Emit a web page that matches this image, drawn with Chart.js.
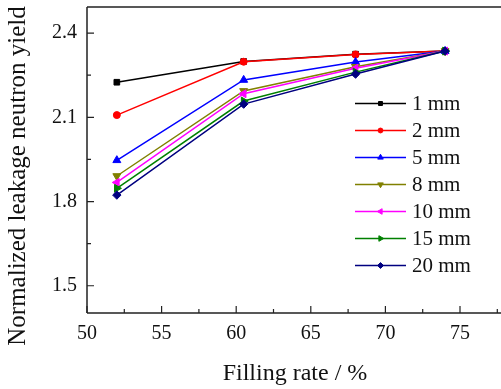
<!DOCTYPE html>
<html>
<head>
<meta charset="utf-8">
<script src="https://cdn.jsdelivr.net/npm/chart.js@4/dist/chart.umd.min.js"></script>
<style>
html,body{margin:0;padding:0;background:#fff;overflow:hidden;}
#wrap{width:560px;height:389px;}
</style>
</head>
<body>
<div id="wrap"><canvas id="c" width="560" height="389"></canvas></div>
<script>
// ---- data ----
const fillingRates = [52, 60.5, 68, 74];
const seriesNames = ['1 mm', '2 mm', '5 mm', '8 mm', '10 mm', '15 mm', '20 mm'];
const y1mm  = [2.225, 2.299, 2.325, 2.336];
const y2mm  = [2.108, 2.298, 2.324, 2.336];
const y5mm  = [1.947, 2.233, 2.297, 2.336];
const y8mm  = [1.891, 2.194, 2.280, 2.336];
const y10mm = [1.868, 2.184, 2.275, 2.336];
const y15mm = [1.847, 2.158, 2.261, 2.336];
const y20mm = [1.823, 2.147, 2.254, 2.336];
const xTicks = [50, 55, 60, 65, 70, 75, 80];
const xMinorTicks = [52.5, 57.5, 62.5, 67.5, 72.5, 77.5];
const yTicks = [1.5, 1.8, 2.1, 2.4];
const yMinorTicks = [1.65, 1.95, 2.25];

const allSeries = [y1mm, y2mm, y5mm, y8mm, y10mm, y15mm, y20mm];
const colors = ['#000000', '#ff0000', '#0000ff', '#808000', '#ff00ff', '#008000', '#000080'];
const styles = ['rect', 'circle', 'triangle', 'triangle', 'triangle', 'triangle', 'rectRot'];
const rotations = [0, 0, 0, 180, -90, 90, 0];
const radii = [4, 3.5, 4.6, 4.6, 4.6, 4.6, 4.2];

const FONT = "'Liberation Serif', 'Times New Roman', serif";

const datasets = allSeries.map((vals, i) => ({
  label: seriesNames[i],
  data: fillingRates.map((x, j) => ({x: x, y: vals[j]})),
  borderColor: colors[i],
  backgroundColor: colors[i],
  pointBackgroundColor: colors[i],
  pointBorderColor: colors[i],
  pointStyle: styles[i],
  pointRotation: rotations[i],
  pointRadius: radii[i],
  pointBorderWidth: 1,
  borderWidth: 1.5,
  order: allSeries.length - i,
  tension: 0
}));

function drawMarker(ctx, style, rot, r, x, y, color) {
  ctx.save();
  ctx.fillStyle = color; ctx.strokeStyle = color; ctx.lineWidth = 1;
  if (Chart.helpers && Chart.helpers.drawPoint) {
    Chart.helpers.drawPoint(ctx, {pointStyle: style, rotation: rot, radius: r, borderWidth: 1}, x, y);
  } else {
    ctx.beginPath(); ctx.arc(x, y, r, 0, Math.PI * 2); ctx.fill();
  }
  ctx.restore();
}

const framePlugin = {
  id: 'frame',
  afterDraw(chart) {
    const ctx = chart.ctx;
    const a = chart.chartArea;
    const xs = chart.scales.x, ys = chart.scales.y;
    ctx.save();
    ctx.strokeStyle = '#222';
    ctx.lineWidth = 1.5;
    ctx.beginPath();
    ctx.moveTo(a.left, a.top); ctx.lineTo(a.right, a.top);
    ctx.moveTo(a.left, a.top); ctx.lineTo(a.left, a.bottom);
    ctx.moveTo(a.left, a.bottom); ctx.lineTo(a.right, a.bottom);
    ctx.stroke();
    ctx.lineWidth = 1.2;
    ctx.beginPath();
    xTicks.forEach(v => { const p = xs.getPixelForValue(v); ctx.moveTo(p, a.bottom); ctx.lineTo(p, a.bottom - 7); });
    xMinorTicks.forEach(v => { const p = xs.getPixelForValue(v); ctx.moveTo(p, a.bottom); ctx.lineTo(p, a.bottom - 4); });
    yTicks.forEach(v => { const p = ys.getPixelForValue(v); ctx.moveTo(a.left, p); ctx.lineTo(a.left + 7, p); });
    yMinorTicks.forEach(v => { const p = ys.getPixelForValue(v); ctx.moveTo(a.left, p); ctx.lineTo(a.left + 4, p); });
    ctx.stroke();

    // axis titles
    ctx.fillStyle = '#111';
    ctx.textAlign = 'center';
    ctx.textBaseline = 'middle';
    ctx.font = '24px ' + FONT;
    ctx.fillText('Filling rate / %', 295, 374);
    ctx.save();
    ctx.font = '25px ' + FONT;
    ctx.translate(18, 176);
    ctx.rotate(-Math.PI / 2);
    ctx.fillText('Normalized leakage neutron yield', 0, 0);
    ctx.restore();

    // legend
    ctx.font = '21px ' + FONT;
    ctx.textAlign = 'left';
    ctx.textBaseline = 'middle';
    chart.data.datasets.forEach((ds, i) => {
      const y = 103.5 + i * 27;
      ctx.strokeStyle = ds.borderColor;
      ctx.lineWidth = 1.5;
      ctx.beginPath(); ctx.moveTo(355, y); ctx.lineTo(406, y); ctx.stroke();
      drawMarker(ctx, ds.pointStyle, ds.pointRotation, ds.pointRadius * 0.7, 380.5, y, ds.borderColor);
      ctx.fillStyle = '#111';
      ctx.fillText(ds.label, 412, y + 1);
    });
    ctx.restore();
  }
};

new Chart(document.getElementById('c'), {
  type: 'line',
  data: { datasets: datasets },
  options: {
    responsive: false,
    animation: false,
    devicePixelRatio: 1,
    layout: { padding: { top: 7, left: 0, right: 25.4, bottom: 0 } },
    plugins: { legend: { display: false }, tooltip: { enabled: false } },
    scales: {
      x: {
        type: 'linear',
        min: 50, max: 80,
        grid: { display: false, drawTicks: false },
        border: { display: false },
        afterFit(s) { s.height = 76; s.paddingLeft = 0; s.paddingRight = 0; },
        afterBuildTicks(s) { s.ticks = xTicks.map(v => ({value: v})); },
        ticks: { color: '#111', font: { family: FONT, size: 20 }, padding: 9, maxRotation: 0, autoSkip: false }
      },
      y: {
        type: 'linear',
        min: 1.403, max: 2.493,
        grid: { display: false, drawTicks: false },
        border: { display: false },
        afterFit(s) { s.width = 87; s.paddingTop = 0; s.paddingBottom = 0; },
        afterBuildTicks(s) { s.ticks = yTicks.map(v => ({value: v})); },
        ticks: { color: '#111', font: { family: FONT, size: 20 }, padding: 10, callback: v => v.toFixed(1) }
      }
    }
  },
  plugins: [framePlugin]
});
</script>
</body>
</html>
